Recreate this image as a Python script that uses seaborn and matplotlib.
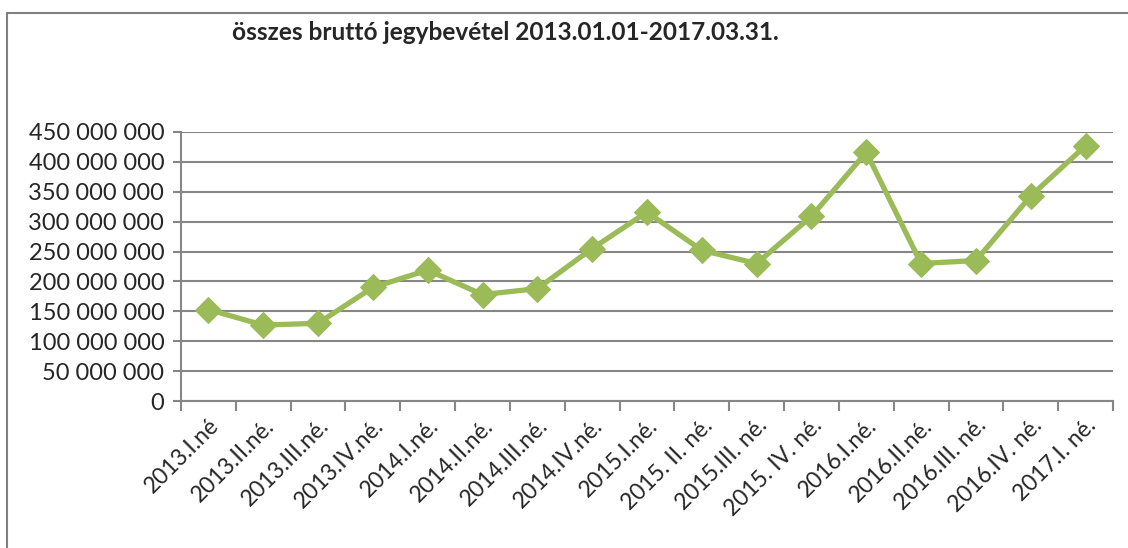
import numpy as np
import pandas as pd
import matplotlib
matplotlib.use('Agg')
import matplotlib.pyplot as plt
import seaborn as sns
from matplotlib.ticker import FuncFormatter, FixedLocator
from matplotlib.patches import Rectangle

quarters = ['2013.I.né', '2013.II.né.', '2013.III.né.', '2013.IV.né.',
            '2014.I.né.', '2014.II.né.', '2014.III.né.', '2014.IV.né.',
            '2015.I.né.', '2015. II. né.', '2015.III. né.', '2015. IV. né.',
            '2016.I.né.', '2016.II.né.', '2016.III. né.', '2016.IV. né.',
            '2017.I. né.']
revenue = [153e6, 127e6, 130e6, 190e6, 219e6, 178e6, 188e6, 255e6,
           316e6, 252e6, 230e6, 309e6, 416e6, 230e6, 235e6, 343e6, 427e6]
y_ticks = [0, 50e6, 100e6, 150e6, 200e6, 250e6, 300e6, 350e6, 400e6, 450e6]

sns.set_style('white')
plt.rcParams['font.family'] = ['Lato', 'DejaVu Sans']

green = '#9BBB59'
grid = '#868686'

fig = plt.figure(figsize=(11.28, 5.48), dpi=100)
ax = fig.add_axes([181 / 1128, 1 - 401 / 548, (1113 - 181) / 1128, (401 - 132) / 548])

df = pd.DataFrame({'pos': np.arange(len(quarters)), 'rev': revenue})
sns.lineplot(data=df, x='pos', y='rev', ax=ax, color=green, linewidth=3.8,
             marker='D', markersize=13, markeredgecolor=green, zorder=3)

ax.set_xlim(-0.5, len(quarters) - 0.5)
ax.set_ylim(0, 450e6)
ax.set_yticks(y_ticks)
ax.yaxis.set_major_formatter(FuncFormatter(lambda v, p: f'{int(v):,}'.replace(',', ' ')))
ax.grid(axis='y', color=grid, linewidth=1.5)
ax.set_axisbelow(True)

ax.set_xticks(np.arange(len(quarters)))
ax.set_xticklabels(quarters, rotation=45, ha='right', rotation_mode='anchor')
ax.xaxis.set_minor_locator(FixedLocator(np.arange(-0.5, len(quarters), 1)))
ax.tick_params(axis='x', which='major', length=0, pad=10, labelsize=16.5)
ax.tick_params(axis='x', which='minor', length=7, width=1.5, color=grid, direction='out', bottom=True)
ax.tick_params(axis='y', length=6, width=1.5, color=grid, direction='out', left=True, labelsize=17, pad=6)

for s in ['top', 'right']:
    ax.spines[s].set_visible(False)
for s in ['left', 'bottom']:
    ax.spines[s].set_color(grid)
    ax.spines[s].set_linewidth(1.5)

ax.set_xlabel('')
ax.set_ylabel('')

fig.text(232 / 1128, 1 - 33 / 548, 'összes bruttó jegybevétel 2013.01.01-2017.03.31.',
         fontsize=17.6, fontweight='bold', ha='left', va='center')

fig.patches.append(Rectangle((7 / 1128, -0.05), 1.2, 1 - 13 / 548 + 0.05,
                             transform=fig.transFigure, fill=False,
                             edgecolor='#808080', linewidth=1.5))

fig.savefig('out.png', dpi=100)
